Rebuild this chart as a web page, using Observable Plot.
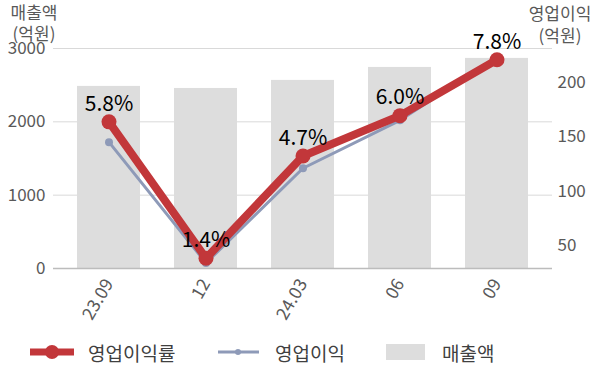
<!DOCTYPE html>
<html><head><meta charset="utf-8">
<script src="https://cdn.jsdelivr.net/npm/d3@7"></script>
<script src="https://cdn.jsdelivr.net/npm/@observablehq/plot@0.6"></script>
<style>
body{margin:0;background:#fff;font-family:"Noto Sans CJK KR","Noto Sans",sans-serif;}
#wrap{position:relative;width:600px;height:383px;overflow:hidden;}
.ttl{position:absolute;font-size:17px;line-height:21px;height:21px;color:#595959;text-align:center;white-space:nowrap;}
.leg{position:absolute;top:340px;height:24px;display:flex;align-items:center;font-size:19px;color:#404040;white-space:nowrap;}
.leg svg{display:block;}
#chart{position:absolute;left:0;top:0;}
</style></head>
<body>
<div id="wrap">
  <div id="chart"></div>
  <div class="ttl" style="left:7px;width:54px;top:1px;">매출액</div>
  <div class="ttl" style="left:7px;width:54px;top:22px;">(억원)</div>
  <div class="ttl" style="left:524px;width:72px;top:2px;">영업이익</div>
  <div class="ttl" style="left:524px;width:72px;top:24px;">(억원)</div>
  <div class="leg" style="left:29px;"><svg width="46" height="24"><line x1="1" x2="45" y1="12" y2="12" stroke="#c2373a" stroke-width="7"/><circle cx="23" cy="12" r="7" fill="#c2373a"/></svg><span style="margin-left:13px">영업이익률</span></div>
  <div class="leg" style="left:218px;"><svg width="41" height="24"><line x1="0" x2="41" y1="12" y2="12" stroke="#8e9ab8" stroke-width="3"/><circle cx="20" cy="12" r="3" fill="#8e9ab8"/></svg><span style="margin-left:16px">영업이익</span></div>
  <div class="leg" style="left:386px;"><svg width="39" height="24"><rect x="0" y="4" width="39" height="16" fill="#dddddd"/></svg><span style="margin-left:17px">매출액</span></div>
</div>
<script>
const periods = ["23.09", "12", "24.03", "06", "09"];
const revenue = [2483, 2455, 2565, 2742, 2865];      // 매출액 (억원)
const profit = [145, 34, 121, 165, 223];             // 영업이익 (억원)
const margin = [5.8, 1.4, 4.7, 6.0, 7.8];            // 영업이익률 (%)
const revenueTicks = [0, 1000, 2000, 3000];
const profitTicks = [50, 100, 150, 200];

// secondary axes mapped onto the revenue scale
const p2v = d3.scaleLinear([0, 200], [-430, 2540]);
const m2v = d3.scaleLinear([0, 5.8], [-453, 2000]);

const rows = periods.map((p, i) => ({period: p, revenue: revenue[i], profit: profit[i], margin: margin[i]}));

const chart = Plot.plot({
  width: 600,
  height: 330,
  marginTop: 48,
  marginBottom: 62,
  marginLeft: 53,
  marginRight: 48,
  style: {fontFamily: '"Noto Sans CJK KR","Noto Sans",sans-serif', fontSize: "17px", color: "#595959", background: "transparent"},
  x: {domain: periods, paddingInner: 0.35, paddingOuter: 0.24, label: null},
  y: {domain: [0, 3000], label: null},
  marks: [
    Plot.gridY(revenueTicks.slice(1), {stroke: "#d9d9d9", strokeOpacity: 1, strokeWidth: 1}),
    Plot.barY(rows, {x: "period", y: "revenue", fill: "#dddddd"}),
    Plot.ruleY([0], {stroke: "#bcbcbc", strokeWidth: 1.3}),
    Plot.axisY(revenueTicks, {anchor: "left", tickSize: 0, tickPadding: 8, label: null, fontSize: 17, fill: "#595959", tickFormat: d => String(d)}),
    Plot.axisY(profitTicks.map(p2v), {anchor: "right", tickSize: 0, tickPadding: 5, label: null, fontSize: 17, fill: "#595959", tickFormat: d => String(Math.round(p2v.invert(d)))}),
    Plot.axisX({tickSize: 0, tickPadding: 12, tickRotate: -60, label: null, fontSize: 17.5, fill: "#595959"}),
    Plot.line(rows, {x: "period", y: d => p2v(d.profit), stroke: "#8e9ab8", strokeWidth: 3}),
    Plot.dot(rows, {x: "period", y: d => p2v(d.profit), r: 4, fill: "#8e9ab8"}),
    Plot.line(rows, {x: "period", y: d => m2v(d.margin), stroke: "#c2373a", strokeWidth: 8}),
    Plot.dot(rows, {x: "period", y: d => m2v(d.margin), r: 7.5, fill: "#c2373a"}),
    Plot.text(rows, {x: "period", y: d => m2v(d.margin), text: d => d.margin.toFixed(1) + "%", dy: -18, fontSize: 21, fill: "#000"})
  ]
});
document.getElementById("chart").appendChild(chart);
</script>
</body></html>
